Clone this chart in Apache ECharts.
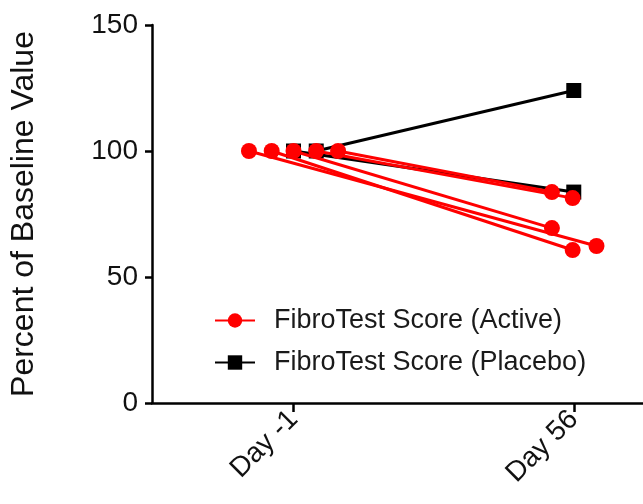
<!DOCTYPE html>
<html><head><meta charset="utf-8">
<script src="https://cdn.jsdelivr.net/npm/echarts@6/dist/echarts.min.js"></script>
<style>html,body{margin:0;padding:0;background:#fff}#c{width:643px;height:504px}</style>
</head><body><div id="c"></div>
<script>
var xLabels = ['Day -1', 'Day 56'];
var yTicks = [0, 50, 100, 150];
// each subject: [day -1 value, day 56 value]
var activeValues = [[100, 62.3], [100, 60.7], [100, 69.4], [100, 81.3], [100, 83.7]];
var placeboValues = [[100, 83.7], [100, 124]];
// horizontal jitter offsets (category units) the original plot uses to separate overlapping points
var activeJitter = [[-0.159, 0.081], [-0.078, -0.004], [0.0, -0.078], [0.081, -0.004], [0.159, -0.078]];
var placeboJitter = [[0.0, 0.0], [0.081, 0.0]];

var font = 'Arial, "Liberation Sans", sans-serif';
var series = [];
function addGroup(name, vals, jit, color, symbol) {
  vals.forEach(function (v, i) {
    series.push({
      name: name, type: 'line', symbol: symbol, symbolSize: symbol === 'circle' ? 16 : 15,
      lineStyle: {color: color, width: 3}, itemStyle: {color: color},
      data: v.map(function (y, k) { return [k + jit[i][k], y]; }),
      z: symbol === 'circle' ? 3 : 2
    });
  });
}
addGroup('FibroTest Score (Placebo)', placeboValues, placeboJitter, '#000000', 'rect');
addGroup('FibroTest Score (Active)', activeValues, activeJitter, '#ff0000', 'circle');

var chart = echarts.init(document.getElementById('c'));
chart.setOption({
  animation: false,
  grid: {left: 147, right: 0, top: 25, bottom: 101},
  legend: {
    orient: 'vertical', left: 209, top: 302, itemGap: 15, itemWidth: 40, itemHeight: 18,
    data: ['FibroTest Score (Active)', 'FibroTest Score (Placebo)'],
    textStyle: {fontSize: 27, fontFamily: font, color: '#1a1a1a', padding: [0, 0, 0, 14]}
  },
  xAxis: {
    type: 'value', min: -0.505, max: 1.247,
    axisLine: {show: true, onZero: false, lineStyle: {color: '#000', width: 2.5}},
    axisTick: {show: true, customValues: [0, 1], length: 9, lineStyle: {color: '#000', width: 2.5}},
    axisLabel: {customValues: [0, 1], rotate: 45, margin: 12, fontSize: 28, fontFamily: font, color: '#111',
      formatter: function (v) { return xLabels[Math.round(v)]; }},
    splitLine: {show: false}
  },
  yAxis: {
    type: 'value', min: yTicks[0], max: yTicks[yTicks.length - 1], interval: 50,
    name: 'Percent of Baseline Value', nameLocation: 'middle', nameGap: 112,
    nameTextStyle: {fontSize: 32, fontFamily: font, color: '#111'},
    axisLine: {show: true, onZero: false, lineStyle: {color: '#000', width: 2.5}},
    axisTick: {show: true, length: 7, lineStyle: {color: '#000', width: 2.5}},
    axisLabel: {margin: 14, fontSize: 28, fontFamily: font, color: '#111'},
    splitLine: {show: false}
  },
  series: series
});
</script></body></html>
